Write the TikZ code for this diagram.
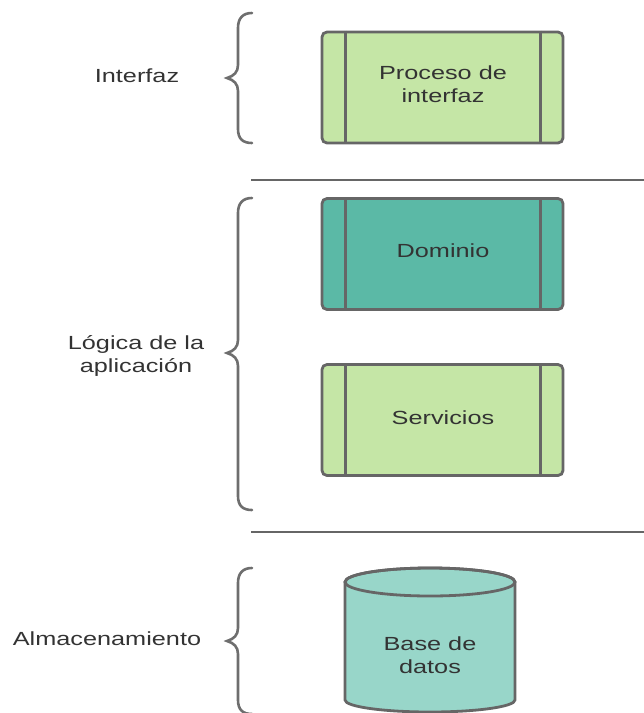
\documentclass[tikz,border=0pt]{standalone}
\usepackage{fontspec}
\setmainfont{Liberation Sans}[FakeStretch=1.33]
\begin{document}
\begin{tikzpicture}[x=1pt,y=1pt,
  edge/.style={draw=bordergray, line width=2.8pt},
  proc/.style={edge, rounded corners=5pt, minimum width=241pt, minimum height=111pt, inner sep=0pt},
  lbl/.style={text=textgray, font=\fontsize{19}{23}\selectfont, align=center},
  bracepath/.style={draw=bracegray, line width=2.6pt, line cap=round}]
\definecolor{bordergray}{HTML}{666666}
\definecolor{bracegray}{HTML}{6E6E6E}
\definecolor{textgray}{HTML}{333333}
\definecolor{lightgreen}{HTML}{C5E6A6}
\definecolor{teal}{HTML}{5BB9A6}
\definecolor{dbfill}{HTML}{98D6C9}
\useasboundingbox (0,0) rectangle (644,-713);
% boxes
\node[proc, fill=lightgreen] (ui) at (442.5,-87.5) {};
\node[proc, fill=teal] (dom) at (442.5,-254) {};
\node[proc, fill=lightgreen] (srv) at (442.5,-420) {};
\foreach \n in {ui,dom,srv}{
  \draw[edge] ([xshift=25pt]\n.north west) -- ([xshift=25pt]\n.south west);
  \draw[edge] ([xshift=-24pt]\n.north east) -- ([xshift=-24pt]\n.south east);
}
\node[lbl] (uit) at (443,-84.5) {Proceso de\\interfaz};
\node[lbl] (domt) at (443,-251) {Dominio};
\node[lbl] (srvt) at (443,-418) {Servicios};
% separators
\coordinate (s1a) at (251,-180); \coordinate (s1b) at (644,-180);
\coordinate (s2a) at (251,-532); \coordinate (s2b) at (644,-532);
\draw[draw=bordergray, line width=2.4pt] (s1a) -- (s1b);
\draw[draw=bordergray, line width=2.4pt] (s2a) -- (s2b);
% cylinder
\path[fill=dbfill, draw=bordergray, line width=2.8pt]
  (345,-582) -- (345,-700) arc[start angle=180, end angle=360, x radius=85, y radius=12]
  -- (515,-582) arc[start angle=0, end angle=180, x radius=85, y radius=14] -- cycle;
\draw[draw=bordergray, line width=2.8pt] (430,-582) ellipse[x radius=85, y radius=14];
\node[lbl] (db) at (430,-655) {Base de\\datos};
% braces
\draw[bracepath] (252,-13) .. controls (243,-13) and (238,-18) .. (238,-28) -- (238,-65)
  .. controls (238,-72) and (234,-76) .. (227,-78) .. controls (234,-80) and (238,-84) .. (238,-91)
  -- (238,-129) .. controls (238,-139) and (243,-143) .. (252,-143);
\draw[bracepath] (252,-198) .. controls (243,-198) and (238,-203) .. (238,-213) -- (238,-340)
  .. controls (238,-347) and (234,-351) .. (227,-353) .. controls (234,-355) and (238,-359) .. (238,-366)
  -- (238,-496) .. controls (238,-506) and (243,-510) .. (252,-510);
\draw[bracepath] (252,-568) .. controls (243,-568) and (238,-573) .. (238,-583) -- (238,-628)
  .. controls (238,-635) and (234,-639) .. (227,-641) .. controls (234,-643) and (238,-647) .. (238,-654)
  -- (238,-700) .. controls (238,-710) and (243,-714) .. (252,-714);
% labels
\node[lbl] (l1) at (137,-76) {Interfaz};
\node[lbl] (l2) at (136,-356) {Lógica de la\\aplicación};
\node[lbl] (l3) at (107,-639) {Almacenamiento};
\end{tikzpicture}
\end{document}
